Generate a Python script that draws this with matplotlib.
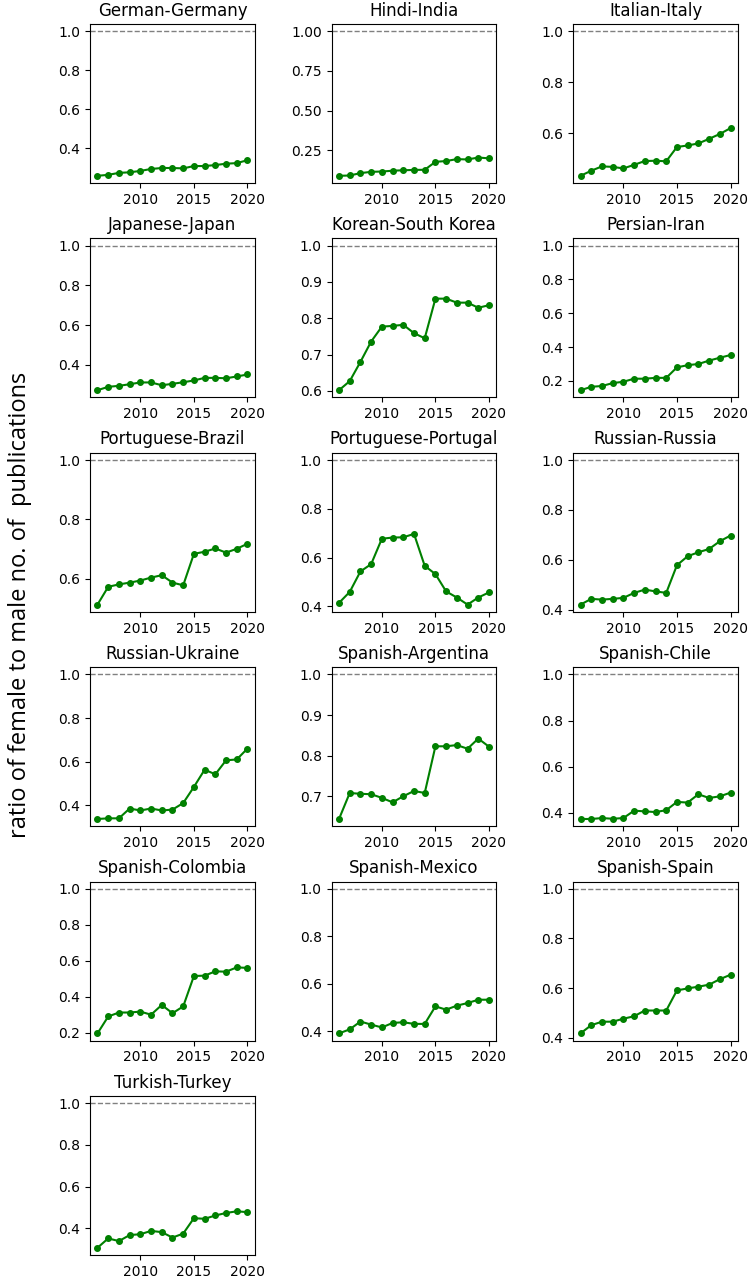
import matplotlib
matplotlib.use('Agg')
import matplotlib.pyplot as plt

years = list(range(2006, 2021))
year_ticks = [2010, 2015, 2020]

german_germany = [0.260, 0.265, 0.275, 0.278, 0.285, 0.295, 0.300, 0.300, 0.298,
                  0.310, 0.310, 0.315, 0.322, 0.325, 0.340]
hindi_india = [0.090, 0.092, 0.107, 0.115, 0.117, 0.122, 0.125, 0.127, 0.128,
               0.178, 0.183, 0.195, 0.193, 0.205, 0.200]
italian_italy = [0.433, 0.453, 0.470, 0.468, 0.462, 0.476, 0.491, 0.492, 0.490,
                 0.546, 0.552, 0.560, 0.578, 0.597, 0.620]
japanese_japan = [0.273, 0.290, 0.295, 0.303, 0.312, 0.312, 0.298, 0.305, 0.313,
                  0.322, 0.335, 0.335, 0.333, 0.342, 0.352]
korean_south_korea = [0.602, 0.627, 0.680, 0.736, 0.777, 0.779, 0.782, 0.759, 0.745,
                      0.854, 0.854, 0.843, 0.843, 0.829, 0.836]
persian_iran = [0.145, 0.165, 0.170, 0.187, 0.195, 0.213, 0.213, 0.218, 0.218,
                0.280, 0.293, 0.300, 0.320, 0.337, 0.353]
portuguese_brazil = [0.513, 0.573, 0.581, 0.587, 0.594, 0.604, 0.612, 0.587, 0.578,
                     0.684, 0.691, 0.702, 0.688, 0.701, 0.718]
portuguese_portugal = [0.414, 0.459, 0.543, 0.573, 0.677, 0.682, 0.683, 0.697, 0.566,
                       0.532, 0.461, 0.436, 0.407, 0.436, 0.457]
russian_russia = [0.420, 0.443, 0.440, 0.443, 0.447, 0.467, 0.480, 0.473, 0.467,
                  0.578, 0.614, 0.630, 0.643, 0.674, 0.697]
russian_ukraine = [0.337, 0.340, 0.340, 0.385, 0.376, 0.385, 0.376, 0.380, 0.410,
                   0.484, 0.563, 0.542, 0.606, 0.610, 0.660]
spanish_argentina = [0.644, 0.708, 0.706, 0.705, 0.696, 0.685, 0.700, 0.713, 0.708,
                     0.823, 0.823, 0.826, 0.817, 0.842, 0.822]
spanish_chile = [0.374, 0.374, 0.378, 0.375, 0.378, 0.410, 0.407, 0.404, 0.412,
                 0.448, 0.445, 0.481, 0.465, 0.472, 0.488]
spanish_colombia = [0.196, 0.290, 0.312, 0.312, 0.317, 0.300, 0.354, 0.308, 0.346,
                    0.515, 0.517, 0.541, 0.539, 0.563, 0.560]
spanish_mexico = [0.390, 0.407, 0.440, 0.427, 0.415, 0.434, 0.437, 0.430, 0.430,
                  0.504, 0.490, 0.507, 0.518, 0.532, 0.532]
spanish_spain = [0.418, 0.451, 0.465, 0.465, 0.477, 0.487, 0.510, 0.510, 0.510,
                 0.591, 0.599, 0.606, 0.614, 0.636, 0.654]
turkish_turkey = [0.306, 0.351, 0.338, 0.367, 0.371, 0.387, 0.381, 0.355, 0.374,
                  0.448, 0.445, 0.461, 0.473, 0.481, 0.477]

titles = ['German-Germany', 'Hindi-India', 'Italian-Italy',
          'Japanese-Japan', 'Korean-South Korea', 'Persian-Iran',
          'Portuguese-Brazil', 'Portuguese-Portugal', 'Russian-Russia',
          'Russian-Ukraine', 'Spanish-Argentina', 'Spanish-Chile',
          'Spanish-Colombia', 'Spanish-Mexico', 'Spanish-Spain',
          'Turkish-Turkey']
series = [german_germany, hindi_india, italian_italy,
          japanese_japan, korean_south_korea, persian_iran,
          portuguese_brazil, portuguese_portugal, russian_russia,
          russian_ukraine, spanish_argentina, spanish_chile,
          spanish_colombia, spanish_mexico, spanish_spain,
          turkish_turkey]

W, H = 750, 1282
fig, axes = plt.subplots(6, 3, figsize=(W / 100, H / 100), dpi=100)
fig.subplots_adjust(left=90 / W, right=738 / W, top=1 - 24 / H, bottom=27 / H,
                    wspace=0.464, hspace=0.348)
axes = axes.ravel()

for ax, title, vals in zip(axes, titles, series):
    ax.plot(years, vals, color='green', marker='o', markersize=4, linewidth=1.5)
    ax.axhline(1.0, color='grey', linestyle='--', linewidth=1)
    ax.set_xticks(year_ticks)
    ax.set_title(title, fontsize=12)

# unused panels in the last row
for ax in axes[len(titles):]:
    ax.axis('off')

fig.text(0.027, 1 - 605 / H, 'ratio of female to male no. of  publications',
         rotation=90, ha='center', va='center', fontsize=17,
         family=['Open Sans', 'DejaVu Sans'])

fig.savefig('out.png', dpi=100)
